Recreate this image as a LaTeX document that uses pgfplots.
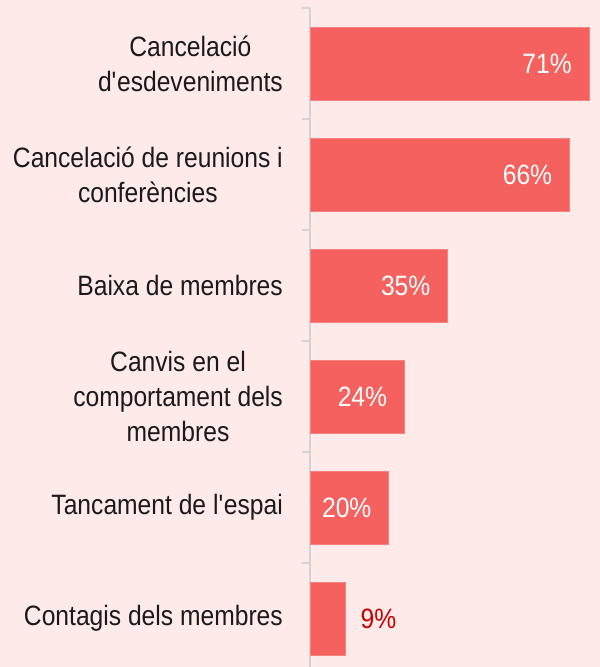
\documentclass[border=0pt]{standalone}
\usepackage{fontspec}
\setmainfont{Liberation Sans}[FakeStretch=0.88]
\usepackage{pgfplots}
\pgfplotsset{compat=1.18}
\definecolor{bg}{HTML}{FFEAEA}
\definecolor{barred}{HTML}{F5615E}
\definecolor{valred}{HTML}{C80000}
\definecolor{axisgray}{HTML}{D4D4D4}
\definecolor{labelblack}{HTML}{1A1A1A}
\newcommand{\lblfont}{\fontsize{28bp}{35bp}\selectfont}
\begin{document}
\begin{tikzpicture}
\fill[bg] (0,0) rectangle (600bp,667bp);
\path[use as bounding box] (0,0) rectangle (600bp,667bp);
\begin{scope}
\clip (0,0) rectangle (600bp,667bp);
\begin{axis}[
  at={(310bp,-7bp)}, anchor=south west,
  scale only axis, width=290bp, height=666bp,
  xmin=0, xmax=73.8, ymin=-0.5, ymax=5.5, y dir=reverse,
  axis x line=none, axis y line=left,
  axis line style={-, axisgray, line width=1.5bp},
  /pgf/number format/assume math mode=true,
  ytick={0,...,5},
  yticklabels={{Cancelació\\d\textquotesingle esdeveniments},{Cancelació de reunions i\\conferències},{Baixa de membres},{Canvis en el\\comportament dels\\membres},{Tancament de l\textquotesingle espai},{Contagis dels membres}},
  major tick length=0pt,
  minor ytick={-0.5,0.5,...,5.5},
  minor tick length=8bp,
  tick align=outside,
  minor tick style={axisgray, line width=1.5bp},
  yticklabel style={align=center, font=\lblfont, text=labelblack, inner sep=0pt, xshift=-27bp},
]
\addplot[xbar, bar shift=0pt, bar width=73bp, fill=barred, draw=barred!80!white,
  point meta=x,
  nodes near coords={\pgfmathprintnumber{\pgfplotspointmeta}\%},
  nodes near coords style={anchor=east, inner sep=0pt, xshift=-17bp, text=white, font=\lblfont}]
  coordinates {(71,0) (66,1) (35,2) (24,3) (20,4)};
\addplot[xbar, bar shift=0pt, bar width=73bp, fill=barred, draw=barred!80!white,
  point meta=x,
  nodes near coords={\pgfmathprintnumber{\pgfplotspointmeta}\%},
  nodes near coords style={anchor=west, inner sep=0pt, xshift=15bp, text=valred, font=\lblfont}]
  coordinates {(9,5)};
\end{axis}
\end{scope}
\end{tikzpicture}
\end{document}
